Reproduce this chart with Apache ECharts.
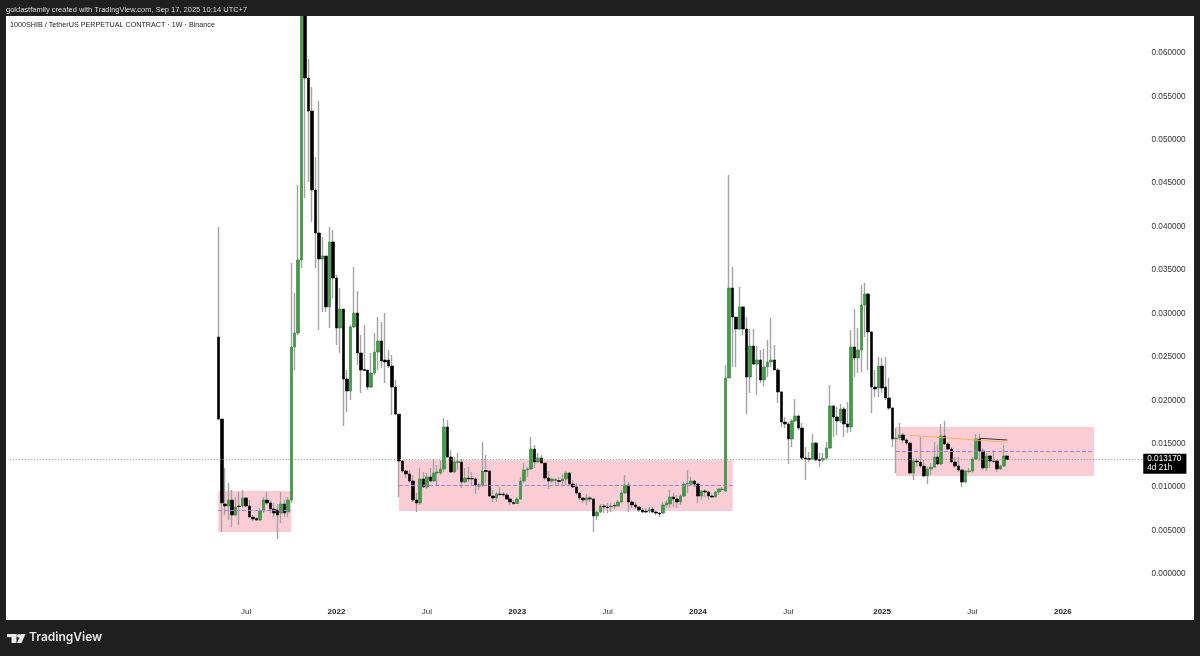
<!DOCTYPE html>
<html>
<head>
<meta charset="utf-8">
<title>1000SHIB / TetherUS weekly</title>
<script src="https://cdn.jsdelivr.net/npm/echarts@6/dist/echarts.min.js"></script>
<style>
  html, body { margin: 0; padding: 0; background: #1f1f1f; }
  #chart { width: 1200px; height: 656px; }
</style>
</head>
<body>
<div id="chart"></div>
<script>
// weekly candles, prices in units of priceUnit, first candle is firstWeek
const priceUnit = 0.00001;
const firstWeek = '2021-05-10';
const paddingWeeks = 60;
const totalWeeks = 328;

const opens = [
  2729,1785,806,783,852,679,783,783,875,783, 656,639,622,725,852,818,748,737,702,806,
  714,852,2614,2775,3616,6950,5711,5331,4422,3927, 3627,3662,3075,3823,3408,2833,3051,2245,2107,2844,
  3005,2545,2355,2349,2153,2315,2556,2683,2464,2464, 2395,2153,1842,1301,1186,1152,1071,852,818,1094,
  1002,1117,1071,1163,1163,1209,1693,1347,1175,1284, 1290,1059,1105,1100,1094,1025,1025,1192,1186,898,
  875,921,921,910,864,823,812,864,1071,1198, 1209,1439,1290,1336,1278,1105,1071,1077,1077,1071,
  1094,1163,1036,1002,933,875,852,875,864,668, 714,783,772,772,789,783,829,933,1025,829,
  795,772,737,725,725,748,714,702,702,795, 806,887,864,829,898,1036,1036,1071,1036,898,
  956,944,898,887,944,973,956,2257,3293,2959, 2821,3075,2821,2268,2625,2418,2464,2234,2384,2441,
  2464,2349,2096,1750,1727,1555,1762,1819,1681,1336, 1330,1324,1508,1318,1313,1336,1451,1935,1808,1762,
  1900,1727,1693,2614,2487,2579,3098,3224,2787,2153, 2142,2395,2153,2027,1911,1555,1566,1601,1543,1508,
  1163,1301,1290,1244,1129,1209,1232,1347,1267,1589, 1497,1439,1290,1244,1198,1059,1180,1186,1324,1555,
  1416,1221,1359,1301,1301,1209,1244,1359
];
const closes = [
  1785,818,783,852,679,772,777,875,783,656, 633,622,725,852,818,748,702,679,806,702,
  852,2614,2775,3616,6950,5711,5331,4422,3927,3627, 3662,3075,3823,3408,2833,3051,2245,2107,2844,3005,
  2545,2349,2343,2153,2315,2556,2683,2453,2441,2395, 2153,1842,1301,1186,1152,1071,852,818,1094,1002,
  1117,1071,1163,1175,1209,1693,1347,1175,1290,1295, 1059,1105,1094,1094,1025,1013,1186,1180,898,875,
  921,915,910,864,829,812,864,1071,1198,1209, 1439,1290,1336,1278,1105,1071,1094,1088,1065,1094,
  1163,1036,1002,933,875,852,875,864,668,714, 783,772,766,783,783,829,933,1025,829,795,
  772,737,714,714,743,714,702,691,795,818, 887,864,829,898,1036,1042,1071,1036,898,956,
  944,898,887,944,979,979,2257,3293,2959,2821, 3075,2821,2268,2625,2418,2464,2234,2384,2441,2464,
  2349,2096,1750,1727,1555,1762,1819,1681,1336,1324, 1318,1508,1313,1307,1330,1451,1935,1808,1762,1900,
  1727,1693,2614,2487,2579,3098,3224,2787,2153,2130, 2395,2142,2027,1911,1555,1566,1601,1543,1508,1163,
  1301,1290,1244,1129,1209,1232,1347,1267,1589,1497, 1439,1290,1244,1198,1059,1186,1186,1324,1555,1416,
  1221,1359,1301,1295,1209,1244,1359,1317
];
const lows = [
  1773,484,679,622,541,668,564,760,772,645, 610,610,610,702,795,702,656,403,587,656,
  656,818,2349,2752,3524,4330,4514,4053,3524,2810, 3017,3017,2833,3178,2637,2545,1704,1865,2004,2833,
  2407,2084,2338,2119,2142,2291,2349,2372,2199,2372, 1831,1831,887,1163,1105,1048,829,714,795,990,
  979,1059,1059,1025,1140,1175,1336,1163,1163,1198, 990,1048,1059,1013,921,967,1002,1048,887,829,
  829,898,887,852,795,795,806,852,1048,1117, 1198,1221,1278,1272,1082,979,1048,1025,1013,1025,
  1025,1031,990,910,852,818,795,829,484,622, 702,702,702,714,748,772,818,921,714,760,
  748,714,702,702,702,702,679,656,691,760, 760,772,760,795,887,933,1013,1002,818,852,
  887,852,875,875,910,956,944,2257,2384,2384, 2810,2752,1842,2084,2407,2061,2199,2165,2268,2384,
  2349,1969,1693,1681,1267,1462,1750,1658,1313,1082, 1290,1313,1301,1232,1290,1313,1439,1578,1601,1739,
  1578,1624,1635,2268,2315,2326,2729,2349,1854,2038, 2038,2084,2004,1888,1462,1163,1543,1508,1485,1152,
  1082,1232,1221,1117,1036,1140,1221,1255,1255,1485, 1428,1278,1221,1175,1002,1048,1163,1163,1313,1301,
  1198,1186,1221,1278,1175,1198,1232,1313
];
const highs = [
  3996,1785,1221,1048,967,887,944,967,887,852, 679,656,760,887,944,852,818,806,944,852,
  887,3581,3236,4479,7300,8880,5930,5608,4802,5447, 3881,3662,3996,3961,3443,3293,3051,2349,2867,3535,
  3259,2752,2867,2349,2545,2775,2959,2902,3005,2579, 2522,2234,1842,1313,1198,1198,1140,933,1221,1175,
  1163,1221,1324,1255,1313,1796,1773,1428,1347,1393, 1324,1221,1232,1175,1117,1048,1520,1370,1198,967,
  944,1002,944,933,887,852,887,1117,1278,1232, 1578,1485,1393,1370,1278,1186,1105,1105,1117,1152,
  1186,1175,1082,1048,944,887,921,898,875,737, 806,806,818,818,818,852,967,1140,1059,852,
  829,772,760,760,772,772,737,714,829,852, 967,933,910,921,1059,1198,1117,1082,1048,967,
  979,956,921,956,990,1002,2407,4594,3535,2959, 3305,3086,2959,2821,2821,2625,2579,2591,2695,2948,
  2637,2372,2107,1808,1750,1785,2015,1831,1739,1462, 1405,1612,1520,1393,1393,1520,2176,1946,1923,1958,
  1923,1981,2810,3051,2833,3328,3351,3236,2798,2349, 2499,2487,2499,2257,1923,1681,1739,1624,1566,1520,
  1336,1336,1578,1313,1232,1278,1520,1485,1727,1762, 1520,1462,1347,1347,1209,1198,1221,1347,1612,1612,
  1451,1393,1370,1428,1313,1255,1485,1370
];

const tickWeeks = ['2021-07-05','2022-01-03','2022-07-04','2023-01-02','2023-07-03','2024-01-01','2024-07-01','2025-01-06','2025-07-07','2026-01-05'];
const tickLabels = ['Jul','2022','Jul','2023','Jul','2024','Jul','2025','Jul','2026'];

// pink boxes and the dashed middle line in each
const zoneStarts = ['2021-05-10','2022-05-09','2025-02-03'];
const zoneEnds = ['2021-10-04','2024-03-11','2026-03-09'];
const zoneTops = [0.00956,0.01313,0.01693];
const zoneBottoms = [0.00484,0.00725,0.01129];
const zoneMiddles = [0.00729,0.01025,0.01416];

const lastPrice = 0.01317;

const week = 7 * 24 * 3600 * 1000;
const start = Date.parse(firstWeek) - paddingWeeks * week;
const categories = [];
for (let i = 0; i < totalWeeks; i++) {
  categories.push(new Date(start + i * week).toISOString().slice(0, 10));
}

const fullRows = opens.map((o, i) => [
  categories[paddingWeeks + i], o * priceUnit, closes[i] * priceUnit, lows[i] * priceUnit, highs[i] * priceUnit
]);
const bodyRows = opens.map((o, i) => [
  categories[paddingWeeks + i], o * priceUnit, closes[i] * priceUnit,
  Math.min(o, closes[i]) * priceUnit, Math.max(o, closes[i]) * priceUnit
]);

const dark = '#1f1f1f';
const font = '"Liberation Sans", Arial, sans-serif';

const chart = echarts.init(document.getElementById('chart'));
chart.setOption({
  animation: false,
  backgroundColor: dark,
  textStyle: { fontFamily: font },
  title: [
    {
      text: 'goldastfamily created with TradingView.com, Sep 17, 2025 10:14 UTC+7',
      left: 6, top: 6, padding: 0, z: 200,
      textStyle: { color: '#d8d8d8', fontSize: 7.5, fontWeight: 'normal', fontFamily: font }
    },
    {
      text: '1000SHIB / TetherUS PERPETUAL CONTRACT · 1W · Binance',
      left: 10, top: 22, padding: 0, z: 200,
      textStyle: { color: '#222', fontSize: 7.2, fontWeight: 'normal', fontFamily: font }
    }
  ],
  grid: { left: 8, top: 9.54, width: 1140, height: 607.88 },
  xAxis: {
    type: 'category',
    data: categories,
    boundaryGap: true,
    axisLine: { show: false },
    axisTick: { show: false },
    splitLine: { show: false },
    axisLabel: {
      inside: true,
      margin: 2,
      fontSize: 8,
      color: '#333',
      interval: (i, value) => tickWeeks.includes(value),
      formatter: value => {
        const label = tickLabels[tickWeeks.indexOf(value)];
        return label === 'Jul' ? label : '{year|' + label + '}';
      },
      rich: { year: { fontSize: 8, fontWeight: 'bold', color: '#222' } }
    }
  },
  yAxis: {
    type: 'value',
    position: 'right',
    min: -0.005,
    max: 0.065,
    interval: 0.005,
    axisLine: { show: false },
    axisTick: { show: false },
    splitLine: { show: false },
    axisLabel: {
      margin: 3.5,
      fontSize: 8.2,
      color: '#333',
      showMinLabel: false,
      showMaxLabel: false,
      formatter: v => v.toFixed(6)
    }
  },
  series: [
    {
      name: 'wicks',
      type: 'candlestick',
      data: fullRows,
      encode: { x: 0, y: [1, 2, 3, 4] },
      barWidth: 1,
      z: 2,
      itemStyle: {
        color: '#a3a3a3', color0: '#a3a3a3',
        borderColor: '#a3a3a3', borderColor0: '#a3a3a3', borderWidth: 1.4
      },
      markArea: {
        silent: true,
        itemStyle: { color: '#fdcdd5' },
        data: zoneStarts.map((s, i) => [
          { coord: [s, zoneTops[i]] },
          { coord: [zoneEnds[i], zoneBottoms[i]] }
        ])
      }
    },
    {
      name: '1000SHIBUSDT.P',
      type: 'candlestick',
      data: bodyRows,
      encode: { x: 0, y: [1, 2, 3, 4] },
      barWidth: 3,
      z: 3,
      itemStyle: {
        color: '#3f9e46', color0: '#000000',
        borderColor: '#35803b', borderColor0: '#000000', borderWidth: 0.6
      },
      markLine: {
        silent: true,
        symbol: 'none',
        animation: false,
        precision: 6,
        label: { show: false },
        data: [
          ...zoneStarts.map((s, i) => [
            { coord: [s, zoneMiddles[i]], lineStyle: { color: '#a97fd0', type: 'dashed', width: 1 } },
            { coord: [zoneEnds[i], zoneMiddles[i]] }
          ]),
          [
            { coord: ['2025-03-03', 0.01597], lineStyle: { color: '#f5b461', type: 'solid', width: 1 } },
            { coord: ['2025-09-15', 0.01517] }
          ],
          [
            { coord: ['2025-07-21', 0.01563], lineStyle: { color: '#333', type: 'solid', width: 1 } },
            { coord: ['2025-09-15', 0.01543] }
          ],
          [
            {
              coord: [categories[0], lastPrice],
              lineStyle: { color: '#8f8f8f', type: [1, 2], width: 1 },
              label: {
                show: true,
                position: 'end',
                distance: 0,
                offset: [-3, 4],
                formatter: '0.013170\n4d 21h',
                backgroundColor: '#000',
                color: '#fff',
                fontSize: 8.2,
                lineHeight: 9,
                padding: [1, 5, 1, 4]
              }
            },
            { coord: [categories[totalWeeks - 1], lastPrice] }
          ]
        ]
      }
    }
  ],
  graphic: [
    { type: 'rect', z: -1, silent: true, shape: { x: 6, y: 16, width: 1188, height: 604 }, style: { fill: '#ffffff' } },
    // header band hides whatever runs past the top of the plot
    { type: 'rect', z: 100, silent: true, shape: { x: 0, y: 0, width: 1200, height: 16 }, style: { fill: dark } },
    { type: 'rect', z: 100, silent: true, shape: { x: 7, y: 634, width: 9.5, height: 3.2 }, style: { fill: '#e8e8e8' } },
    { type: 'rect', z: 100, silent: true, shape: { x: 11.5, y: 634, width: 5, height: 9 }, style: { fill: '#e8e8e8' } },
    { type: 'circle', z: 100, silent: true, shape: { cx: 19, cy: 635.8, r: 1.9 }, style: { fill: '#e8e8e8' } },
    { type: 'polygon', z: 100, silent: true, shape: { points: [[21, 634], [25.5, 634], [21.5, 643], [17, 643]] }, style: { fill: '#e8e8e8' } },
    {
      type: 'text', z: 100, silent: true, x: 29, y: 631,
      style: { text: 'TradingView', fill: '#e8e8e8', fontSize: 12, fontWeight: 600, fontFamily: 'Inter, ' + font }
    }
  ]
});
</script>
</body>
</html>
